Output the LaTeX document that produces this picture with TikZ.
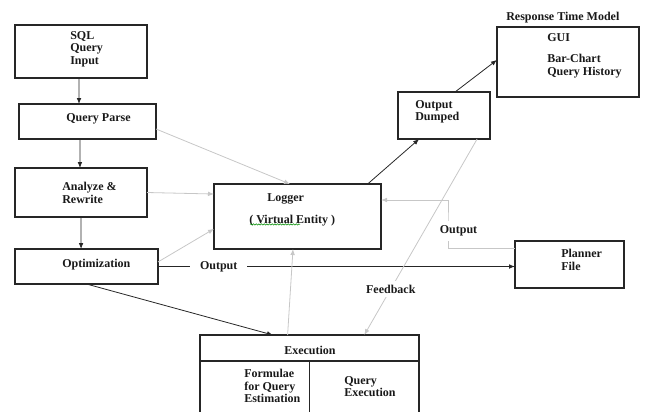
\documentclass[tikz,border=0pt]{standalone}
\usepackage{fontspec}
\setmainfont{Liberation Serif}
\usetikzlibrary{calc,arrows.meta,decorations.pathmorphing}
\begin{document}
\begin{tikzpicture}[x=0.75pt,y=-0.75pt,
  box/.style={draw=black!85, line width=0.8pt, inner sep=0pt, outer sep=0pt, anchor=north west},
  txt/.style={anchor=north west, inner sep=0pt, align=left, font=\fontsize{9}{9.4}\selectfont\bfseries, text=black!90},
  arr/.style={-{Latex[length=4.5pt,width=3.5pt]}, line width=0.6pt, draw=black!85},
  garr/.style={-{Latex[length=4.5pt,width=3.5pt]}, line width=0.6pt, draw=black!22},
  lbl/.style={fill=white, inner sep=3pt, font=\fontsize{9}{9.4}\selectfont\bfseries, text=black!90}]
\useasboundingbox (0,0) rectangle (645,411);

% boxes
\node[box, minimum width=99pt, minimum height=39.75pt] (sql) at (15,25) {};
\node[box, minimum width=102.75pt, minimum height=26.25pt] (parse) at (19,104) {};
\node[box, minimum width=99pt, minimum height=36.75pt] (analyze) at (15,168) {};
\node[box, minimum width=107.25pt, minimum height=26.25pt] (opt) at (15,249) {};
\node[box, minimum width=125.25pt, minimum height=48.75pt] (logger) at (214,184) {};
\node[box, minimum width=69pt, minimum height=35.25pt] (dumped) at (398,92) {};
\node[box, minimum width=106.5pt, minimum height=52.5pt] (gui) at (497,27) {};
\node[box, minimum width=81.75pt, minimum height=35.25pt] (planner) at (515,241) {};
\node[box, minimum width=164.25pt, minimum height=19.5pt] (exec) at (200,335) {};
\draw[draw=black!85, line width=0.8pt] (exec.south west) -- ++(0,52);
\draw[draw=black!85, line width=0.8pt] (exec.south east) -- ++(0,52);
\draw[draw=black!85, line width=0.8pt] ($(exec.south west)!0.502!(exec.south east)$) -- ++(0,52);

% texts
\node[txt] (t1) at (70,31) {SQL\\Query\\Input};
\node[txt] (t2) at (66,113) {Query Parse};
\node[txt] (t3) at (62,182) {Analyze \&\\Rewrite};
\node[txt] (t4) at (62,259) {Optimization};
\node[txt] (t5) at (267,193) {Logger};
\node[txt] (t6) at (249,215) {( Virtual Entity )};
\node[txt] (t7) at (415,100) {Output\\Dumped};
\node[txt] (t8) at (506,12) {Response Time Model};
\node[txt] (t9) at (547,33) {GUI};
\node[txt] (t10) at (547,54) {Bar-Chart\\Query History};
\node[txt] (t11) at (561,249) {Planner\\File};
\node[txt] (t12) at (284,346) {Execution};
\node[txt] (t13) at (244,369) {Formulae\\for Query\\Estimation};
\node[txt] (t14) at (344,376) {Query\\Execution};
\draw[draw=green!55!black, line width=0.4pt, decorate, decoration={snake, amplitude=0.5pt, segment length=2pt}]
  ($(t6.south west)+(1,-2)$) -- +(50,0);

% connectors
\draw[arr] ($(sql.south west)!0.485!(sql.south east)$) -- ($(parse.north west)!0.438!(parse.north east)$);
\draw[arr] ($(parse.south west)!0.445!(parse.south east)$) -- ($(analyze.north west)!0.492!(analyze.north east)$);
\draw[arr] (analyze.south) -- ($(opt.north west)!0.462!(opt.north east)$);
\draw[garr] ($(parse.north east)!0.714!(parse.south east)$) -- ($(logger.north west)!0.455!(logger.north east)$);
\draw[garr] (analyze.east) -- ($(logger.north west)!0.154!(logger.south west)$);
\draw[garr] ($(opt.north east)!0.37!(opt.south east)$) -- ($(logger.north west)!0.69!(logger.south west)$);
\draw[arr] (opt.east) -- (opt.east -| planner.west) node[lbl, inner xsep=7.5pt, pos=0.17] (out1) {Output};
\draw[arr] (opt.south) -- ($(exec.north west)!0.333!(exec.north east)$);
\draw[garr] ($(exec.north west)!0.40!(exec.north east)$) -- ($(logger.south west)!0.473!(logger.south east)$);
\draw[arr] ($(logger.north west)!0.92!(logger.north east)$) -- ($(dumped.south west)!0.23!(dumped.south east)$);
\draw[arr] ($(dumped.north west)!0.62!(dumped.north east)$) -- ($(gui.north west)!0.47!(gui.south west)$);
\draw[garr] ($(dumped.south west)!0.86!(dumped.south east)$) -- ($(exec.north west)!0.75!(exec.north east)$) node[lbl, pos=0.765] (fb) {Feedback};
\coordinate (pa) at ($(planner.north west)!0.15!(planner.south west)$);
\coordinate (lb) at ($(logger.north east)!0.246!(logger.south east)$);
\draw[garr] (pa) -| ($(pa)!0.5!(lb)$) |- (lb);
\node[lbl, inner xsep=1pt, inner ysep=3.5pt] (out2) at (458.5,231) {Output};
\end{tikzpicture}
\end{document}
